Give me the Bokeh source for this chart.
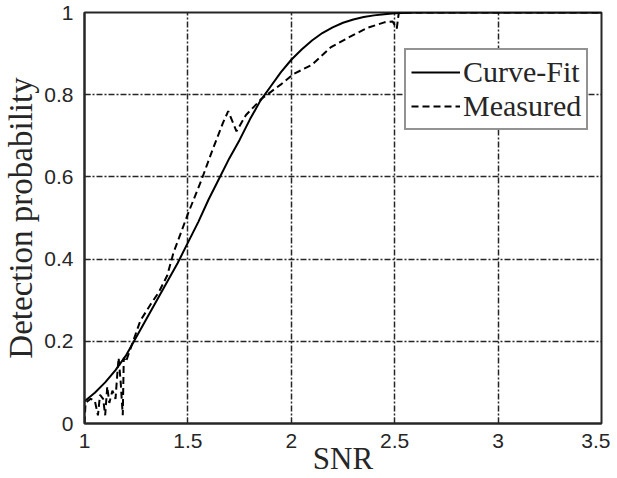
from bokeh.plotting import figure
from bokeh.models import Legend, LegendItem, FixedTicker
from bokeh.embed import file_html
from bokeh.resources import INLINE

# Curve-fit (solid)
fit_x = [1.0, 1.05, 1.1, 1.15, 1.2, 1.25, 1.3, 1.35, 1.4, 1.45, 1.5, 1.55, 1.6, 1.65, 1.7,
         1.75, 1.8, 1.85, 1.9, 1.95, 2.0, 2.05, 2.1, 2.15, 2.2, 2.25, 2.3, 2.35, 2.4, 2.45,
         2.5, 2.6, 2.8, 3.0, 3.5]
fit_y = [0.054, 0.075, 0.10, 0.13, 0.165, 0.21, 0.255, 0.30, 0.345, 0.39, 0.44, 0.49, 0.545, 0.595, 0.645,
         0.69, 0.74, 0.785, 0.82, 0.855, 0.885, 0.91, 0.932, 0.95, 0.964, 0.975, 0.983, 0.989, 0.993, 0.996,
         0.998, 1.0, 1.0, 1.0, 1.0]

# Measured (dashed)
meas_x = [1.0, 1.005, 1.03, 1.05, 1.065, 1.075, 1.09, 1.10, 1.11, 1.12, 1.135, 1.15, 1.16, 1.165,
          1.175, 1.185, 1.19, 1.20, 1.235, 1.27, 1.32, 1.36, 1.40, 1.43, 1.50, 1.566, 1.62, 1.67,
          1.695, 1.735, 1.78, 1.856, 1.95, 2.01, 2.10, 2.19, 2.28, 2.37, 2.45, 2.49, 2.51, 2.52, 3.5]
meas_y = [0.0, 0.05, 0.06, 0.055, 0.02, 0.07, 0.06, 0.02, 0.09, 0.05, 0.08, 0.06, 0.13, 0.16,
          0.10, 0.02, 0.16, 0.15, 0.20, 0.25, 0.29, 0.32, 0.36, 0.415, 0.51, 0.593, 0.667, 0.732,
          0.76, 0.711, 0.75, 0.79, 0.825, 0.85, 0.873, 0.915, 0.94, 0.963, 0.976, 0.978, 0.961, 1.0, 1.0]

x_ticks = [1, 1.5, 2, 2.5, 3, 3.5]
y_ticks = [0, 0.2, 0.4, 0.6, 0.8, 1]
x_label = "SNR"
y_label = "Detection probability"
series_names = ["Curve-Fit", "Measured"]

p = figure(frame_width=517, frame_height=411, x_range=(1, 3.5), y_range=(0, 1),
           output_backend="svg", toolbar_location=None,
           min_border_left=74, min_border_right=9, min_border_top=12, min_border_bottom=50)
p.background_fill_color = "white"
p.outline_line_color = "#262626"
p.outline_line_width = 2

r_fit = p.line(fit_x, fit_y, line_color="black", line_width=2)
r_meas = p.line(meas_x, meas_y, line_color="black", line_width=2, line_dash="7 4")

for ax, ticks in ((p.xaxis, x_ticks), (p.yaxis, y_ticks)):
    ax.ticker = FixedTicker(ticks=ticks)
    ax.axis_line_color = "#262626"
    ax.axis_line_width = 2
    ax.major_tick_in = 6
    ax.major_tick_out = 0
    ax.minor_tick_line_color = None
    ax.major_tick_line_color = "#262626"
    ax.major_label_text_font = "Liberation Sans"
    ax.major_label_text_font_size = "21px"
    ax.major_label_text_color = "#262626"
    ax.axis_label_text_font = "Liberation Serif"
    ax.axis_label_text_font_style = "normal"
    ax.axis_label_text_color = "#262626"

p.xaxis.major_label_overrides = {1: "1", 1.5: "1.5", 2: "2", 2.5: "2.5", 3: "3", 3.5: "3.5"}
p.yaxis.major_label_overrides = {0: "0", 0.2: "0.2", 0.4: "0.4", 0.6: "0.6", 0.8: "0.8", 1: "1"}
p.xaxis.major_label_standoff = 10
p.yaxis.major_label_standoff = 11

p.yaxis.axis_label = y_label
p.yaxis.axis_label_text_font_size = "33px"
p.yaxis.axis_label_standoff = 2

p.xaxis.axis_label = x_label
p.xaxis.axis_label_text_font_size = "31px"
p.xaxis.axis_label_standoff = -10

for g in (p.xgrid, p.ygrid):
    g.grid_line_color = "#262626"
    g.grid_line_alpha = 1.0
    g.grid_line_width = 1.5
    g.grid_line_dash = "6 2 2 2"

legend = Legend(items=[LegendItem(label=series_names[0], renderers=[r_fit]),
                       LegendItem(label=series_names[1], renderers=[r_meas])],
                location=(320, 293))
legend.label_text_font = "Liberation Serif"
legend.label_text_font_size = "30px"
legend.label_text_color = "#262626"
legend.glyph_width = 49
legend.glyph_height = 28
legend.label_height = 28
legend.label_standoff = 3
legend.padding = 5
legend.spacing = 0
legend.margin = 0
legend.border_line_color = "#262626"
legend.border_line_width = 2
legend.background_fill_alpha = 1.0
p.add_layout(legend, "center")

open("out.html", "w").write(file_html(p, INLINE))
